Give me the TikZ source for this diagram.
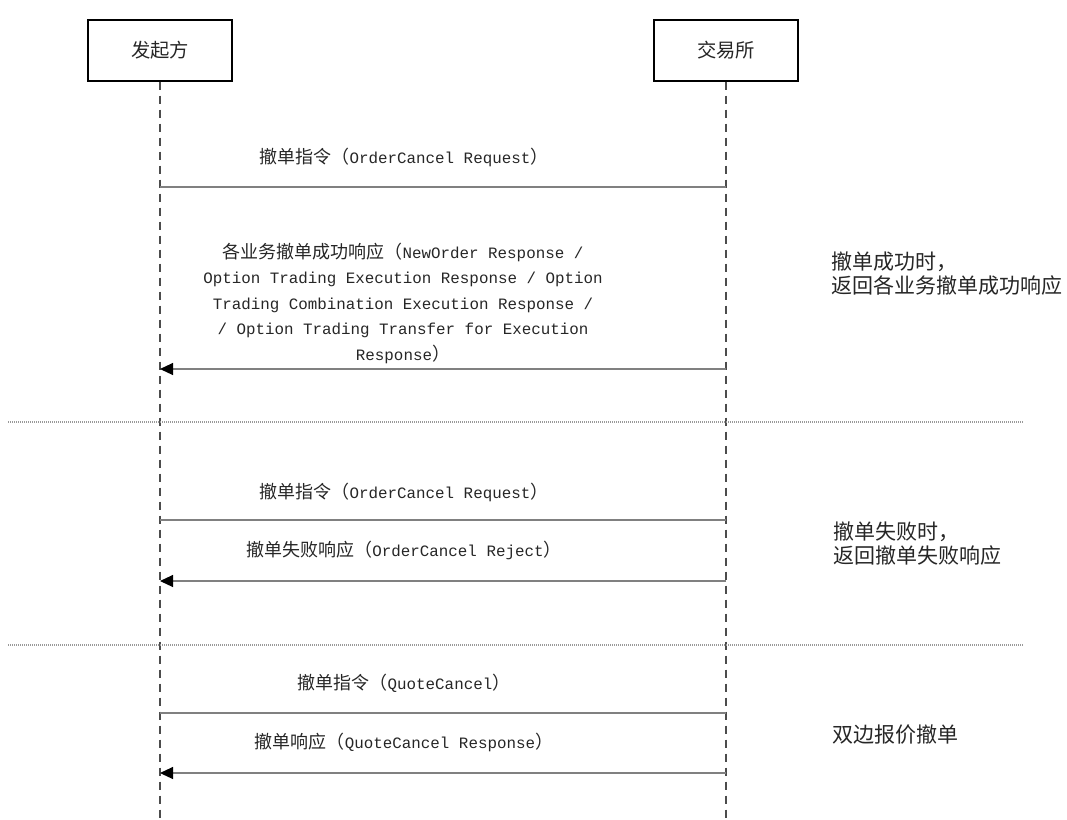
\documentclass[tikz,border=0pt]{standalone}
\usepackage{fontspec}
\setmainfont{Liberation Mono}[Scale=0.88]
\newfontfamily\cjk{Noto Sans CJK SC}
\usetikzlibrary{arrows.meta}
\tikzset{
  actor/.style={draw=black, line width=0.8pt, minimum width=108pt, minimum height=45.75pt, inner sep=0pt, font=\fontsize{14.5pt}{16pt}\selectfont\cjk, text=black!85},
  lifeline/.style={draw=black!70, line width=1pt, dash pattern=on 6pt off 4.5pt},
  msg/.style={draw=black!50, line width=0.8pt},
  reply/.style={msg, -{Triangle[length=9.75pt,width=9pt,black]}},
  lbl/.style={align=center, inner sep=0pt, text=black!85, font=\fontsize{13.5pt}{19.1pt}\selectfont},
  note/.style={align=left, anchor=west, inner sep=0pt, text=black!85, font=\fontsize{15.75pt}{18pt}\selectfont\cjk},
  sep/.style={draw=black!40, line width=0.8pt, dash pattern=on 0.75pt off 0.75pt}
}
\begin{document}
\begin{tikzpicture}[x=0.75pt,y=-0.75pt]
\useasboundingbox (0,0) rectangle (1067,819);
% actors
\node[actor] (A) at (160,50.5) {发起方};
\node[actor] (B) at (726,50.5) {交易所};
\coordinate (Aend) at (160,819);
\coordinate (Bend) at (726,819);
\draw[lifeline] (A.south) -- (Aend);
\draw[lifeline] (B.south) -- (Bend);
% message heights
\coordinate (m1) at (0,187);
\coordinate (m2) at (0,369);
\coordinate (m3) at (0,520);
\coordinate (m4) at (0,581);
\coordinate (m5) at (0,713);
\coordinate (m6) at (0,773);
% section 1
\node[lbl] (t1) at (404,157) {{\cjk 撤单指令（}OrderCancel Request{\cjk ）}};
\draw[msg] (A |- m1) -- (B |- m1);
\node[lbl] (t2) at (403,303) {{\cjk 各业务撤单成功响应（}NewOrder Response /\\Option Trading Execution Response / Option\\Trading Combination Execution Response /\\/ Option Trading Transfer for Execution\\Response{\cjk ）}};
\draw[reply] (B |- m2) -- (A |- m2);
\node[note] (n1) at (831,273.5) {撤单成功时，\\返回各业务撤单成功响应};
% separator 1
\coordinate (s1a) at (8,422);
\coordinate (s1b) at (1023,422);
\draw[sep] (s1a) -- (s1b);
% section 2
\node[lbl] (t3) at (404,492) {{\cjk 撤单指令（}OrderCancel Request{\cjk ）}};
\draw[msg] (A |- m3) -- (B |- m3);
\node[lbl] (t4) at (404,550) {{\cjk 撤单失败响应（}OrderCancel Reject{\cjk ）}};
\draw[reply] (B |- m4) -- (A |- m4);
\node[note] (n2) at (833,544) {撤单失败时，\\返回撤单失败响应};
% separator 2
\coordinate (s2a) at (8,645);
\coordinate (s2b) at (1023,645);
\draw[sep] (s2a) -- (s2b);
% section 3
\node[lbl] (t5) at (404,683) {{\cjk 撤单指令（}QuoteCancel{\cjk ）}};
\draw[msg] (A |- m5) -- (B |- m5);
\node[lbl] (t6) at (404,742) {{\cjk 撤单响应（}QuoteCancel Response{\cjk ）}};
\draw[reply] (B |- m6) -- (A |- m6);
\node[note] (n3) at (832,735) {双边报价撤单};
\end{tikzpicture}
\end{document}
